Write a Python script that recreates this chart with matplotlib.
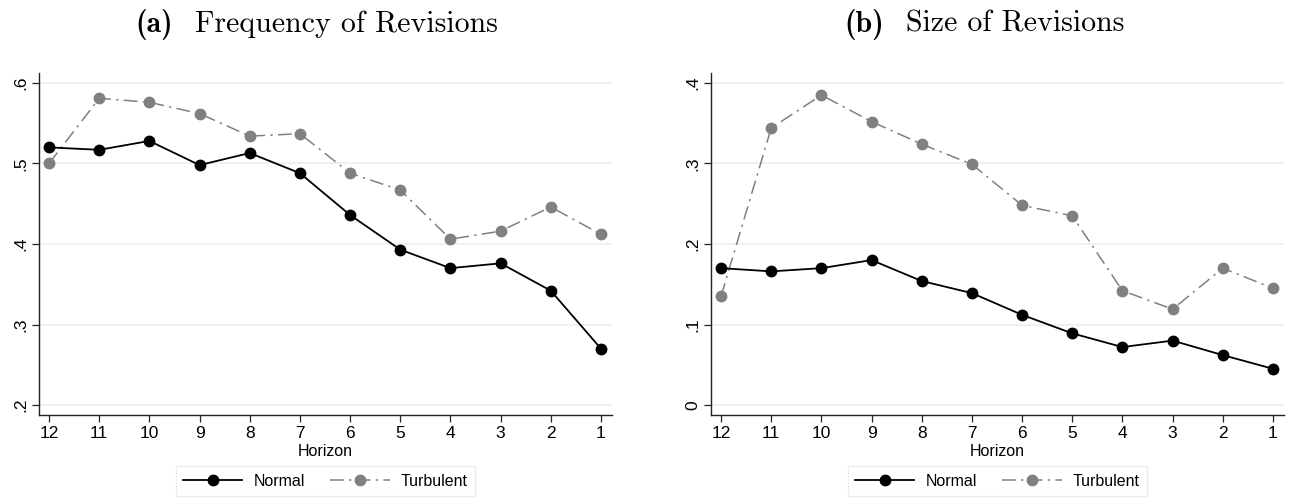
import matplotlib
matplotlib.use("Agg")
import matplotlib.pyplot as plt
from matplotlib.ticker import FixedLocator, FixedFormatter

horizon = [12, 11, 10, 9, 8, 7, 6, 5, 4, 3, 2, 1]

freq_normal = [0.520, 0.517, 0.528, 0.498, 0.513, 0.488, 0.436, 0.393, 0.370, 0.376, 0.342, 0.270]
freq_turbulent = [0.500, 0.581, 0.576, 0.562, 0.534, 0.537, 0.488, 0.467, 0.406, 0.416, 0.446, 0.412]

size_normal = [0.170, 0.166, 0.170, 0.180, 0.154, 0.139, 0.112, 0.089, 0.072, 0.080, 0.062, 0.045]
size_turbulent = [0.135, 0.344, 0.385, 0.352, 0.324, 0.299, 0.248, 0.235, 0.142, 0.119, 0.170, 0.145]

freq_yticks = [0.2, 0.3, 0.4, 0.5, 0.6]
freq_yticklabels = [".2", ".3", ".4", ".5", ".6"]
size_yticks = [0.0, 0.1, 0.2, 0.3, 0.4]
size_yticklabels = ["0", ".1", ".2", ".3", ".4"]

panel_letters = ["(a)", "(b)"]
panel_titles = ["Frequency of Revisions", "Size of Revisions"]
series_labels = ["Normal", "Turbulent"]
xlabel = "Horizon"

plt.rcParams['font.family'] = ['Liberation Sans', 'DejaVu Sans']

W, H = 1291, 498
fig = plt.figure(figsize=(W / 100, H / 100), dpi=100)

axes_px = [(39, 612), (711, 1284)]
title_left_px = [135, 844]
top_px, bot_px = 73, 415

grid_color = "#EAF1F2"
turb_color = "#808080"

panels = [
    (freq_normal, freq_turbulent, freq_yticks, freq_yticklabels, (0.1876, 0.6124)),
    (size_normal, size_turbulent, size_yticks, size_yticklabels, (-0.0124, 0.4124)),
]

for i, (nrm, trb, yt, ytl, ylim) in enumerate(panels):
    l, r = axes_px[i]
    ax = fig.add_axes([l / W, 1 - bot_px / H, (r - l) / W, (bot_px - top_px) / H])
    ax.set_xlim(12.2, 0.78)
    ax.set_ylim(*ylim)
    ax.yaxis.set_major_locator(FixedLocator(yt))
    ax.yaxis.set_major_formatter(FixedFormatter(ytl))
    ax.xaxis.set_major_locator(FixedLocator(horizon))
    ax.xaxis.set_major_formatter(FixedFormatter([str(h) for h in horizon]))
    for y in yt:
        ax.axhline(y, color=grid_color, lw=1.3, zorder=0)
    ax.plot(horizon, nrm, color="black", lw=1.3, marker="o", ms=7.5,
            mfc="black", mec="black", label=series_labels[0], zorder=3)
    ax.plot(horizon, trb, color=turb_color, lw=1.1, marker="o", ms=7.5,
            mfc=turb_color, mec=turb_color, dashes=(9, 3.5, 1.5, 3.5),
            label=series_labels[1], zorder=2)
    for s in ["top", "right"]:
        ax.spines[s].set_visible(False)
    for s in ["left", "bottom"]:
        ax.spines[s].set_color("#222222")
        ax.spines[s].set_linewidth(1.0)
    ax.tick_params(axis="both", length=5, width=0.9, color="#222222", labelsize=12.5, pad=3)
    ax.tick_params(axis="y", pad=3)
    for lab in ax.get_yticklabels():
        lab.set_rotation(90)
        lab.set_va("center")
    ax.set_xlabel(xlabel, fontsize=11.5, labelpad=2)
    ax.xaxis.set_label_coords(0.5, -0.085)
    cx = (l + r) / 2 / W
    leg = ax.legend(loc="center", bbox_to_anchor=(cx, 1 - 481 / H),
                    bbox_transform=fig.transFigure, ncol=2, frameon=True,
                    fontsize=11.5, handlelength=3.7, columnspacing=1.6,
                    fancybox=False, borderpad=0.45, handletextpad=0.7)
    leg.get_frame().set_edgecolor("#E4ECEE")
    leg.get_frame().set_linewidth(1.0)

    # title
    t1 = fig.text(title_left_px[i] / W, 1 - 32 / H, panel_letters[i], ha="left", va="baseline",
                  fontsize=21.5, fontfamily="cmb10")
    fig.canvas.draw()
    bb = t1.get_window_extent()
    fig.text((bb.x1 + 22) / W, 1 - 32 / H, panel_titles[i], ha="left", va="baseline",
             fontsize=21.5, fontfamily="cmr10")

fig.savefig("out.png", dpi=100)
